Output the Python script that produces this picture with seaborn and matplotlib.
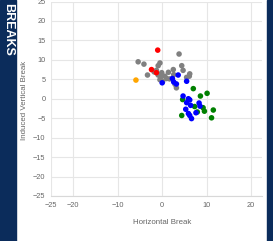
import matplotlib
matplotlib.use("Agg")
import matplotlib.pyplot as plt
from matplotlib.patches import Rectangle
import pandas as pd
import seaborn as sns

# pitch movement (inches)
gray_x = [-5.4, -4.1, -0.5, -0.9, -1.3, -3.3, -0.9, -0.1, 0.6, 1.4, -0.5, 0.1,
          2.5, 2.6, 4.4, 4.7, 6.2, 5.5, 2.9, 3.2, 1.7, 3.8, -1.8, 1.0, -0.3, 6.1]
gray_y = [9.5, 8.9, 9.2, 8.5, 7.3, 6.1, 6.1, 6.7, 5.8, 6.8, 4.9, 4.4,
          7.5, 6.2, 8.5, 7.3, 6.4, 5.5, 3.7, 2.8, 5.1, 11.5, 6.9, 5.2, 5.6, 5.8]
red_x = [-1.0, -2.4, -1.3]
red_y = [12.5, 7.5, 6.7]
orange_x = [-5.9]
orange_y = [4.8]
green_x = [7.0, 10.1, 8.6, 4.6, 7.3, 9.2, 9.5, 11.5, 4.4, 11.1, 7.9]
green_y = [2.6, 1.4, 0.7, -0.2, -2.0, -2.3, -3.2, -2.9, -4.3, -4.9, -3.4]
blue_x = [3.6, 2.3, 2.6, 3.2, 0.0, 5.5, 4.7, 5.9, 5.5, 6.4, 8.3, 8.5,
          5.3, 7.6, 6.2, 6.6, 5.9, 6.2]
blue_y = [6.1, 5.2, 4.3, 3.8, 4.1, 4.5, 0.7, 0.0, -1.0, -1.7, -1.1, -1.9,
          -2.7, -3.6, -4.3, -5.1, -3.8, -0.3]

x_ticks = [-25, -20, -10, 0, 10, 20]
y_ticks = list(range(-25, 26, 5))

groups = [("gray", gray_x, gray_y), ("orange", orange_x, orange_y),
          ("red", red_x, red_y), ("green", green_x, green_y),
          ("blue", blue_x, blue_y)]
df = pd.concat([pd.DataFrame({"hb": gx, "ivb": gy, "pitch": name})
                for name, gx, gy in groups], ignore_index=True)
palette = {"gray": "#808080", "orange": "#ffa500", "red": "#ff0000",
           "green": "#008000", "blue": "#0000ff"}

sns.set_style("white")
plt.rcParams["font.family"] = ["Liberation Sans", "DejaVu Sans"]

W, H = 273, 241
fig = plt.figure(figsize=(W / 100, H / 100), dpi=100)
ax = fig.add_axes([51 / W, 1 - 196 / H, (262 - 51) / W, (196 - 1.5) / H])

sns.scatterplot(data=df, x="hb", y="ivb", hue="pitch", palette=palette,
                s=16, linewidth=0, legend=False, ax=ax, zorder=3)

ax.set_xlim(-25, 22.45)
ax.set_ylim(-25, 25)
ax.set_xticks(x_ticks)
ax.set_yticks(y_ticks)
ax.grid(True, color="#e6e6e6", linewidth=0.8)
ax.set_axisbelow(True)
ax.tick_params(length=0, labelsize=5.3, labelcolor="#666666", pad=4)
for side in ["top", "right", "left"]:
    ax.spines[side].set_visible(False)
ax.spines["bottom"].set_color("#d8d8d8")
ax.spines["bottom"].set_linewidth(0.8)

ax.set_xlabel("Horizontal Break", fontsize=5.7, color="#666666", va="center")
ax.set_ylabel("Induced Vertical Break", fontsize=5.7, color="#666666", va="center")
ax.xaxis.set_label_coords((162 - 51) / 211, -(222 - 196) / 194.5)
ax.yaxis.set_label_coords((24 - 51) / 211, 0.49)

# side bars of the page
navy = "#0b2c5b"
fig.patches.append(Rectangle((0, 0), 16 / W, 1, transform=fig.transFigure,
                             color=navy, zorder=0))
fig.patches.append(Rectangle((266.7 / W, 0), 1, 1, transform=fig.transFigure,
                             color=navy, zorder=0))
fig.text(8 / W, 1 - 3 / H, "BREAKS", rotation=-90, color="white",
         fontsize=9, fontweight="bold", ha="center", va="top")

fig.savefig("out.png", dpi=100)
